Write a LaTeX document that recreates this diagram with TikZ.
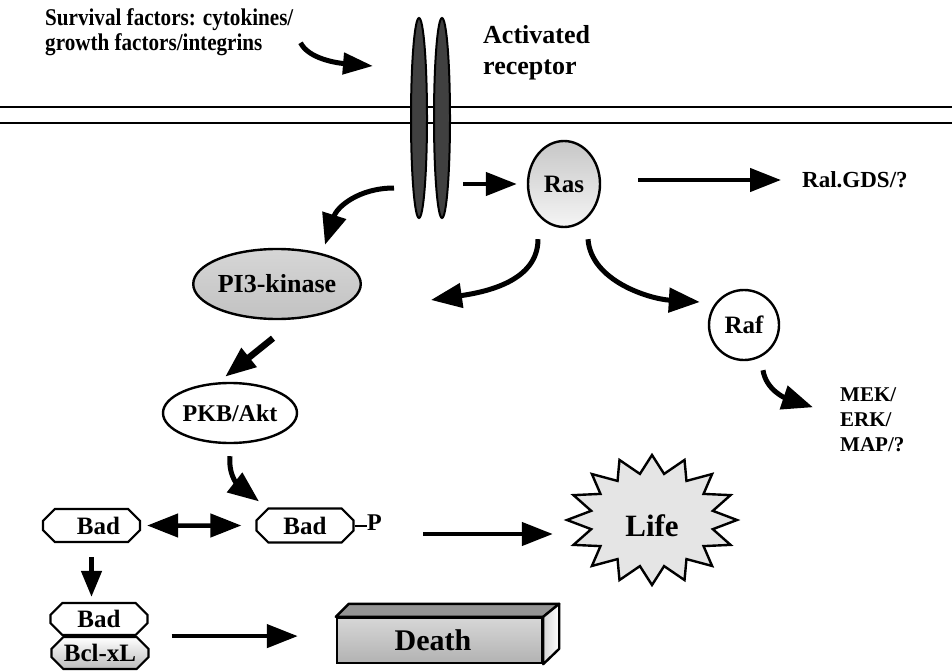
\documentclass[tikz,border=0pt]{standalone}
\usepackage{fontspec}
\setmainfont{Liberation Serif}
\newfontfamily\narrowserif{Liberation Serif}[FakeStretch=0.88]
\usetikzlibrary{arrows.meta,shapes.geometric,shapes.misc}
\newcommand\fsz[1]{\fontsize{#1}{#1}\selectfont\bfseries}

\tikzset{
  lbl/.style={inner sep=0pt, align=left, anchor=north west},
  arr/.style={line width=4.5pt, -{Triangle[length=31pt,width=23pt]}},
  darr/.style={line width=4.5pt, {Triangle[length=31pt,width=23pt]}-{Triangle[length=31pt,width=23pt]}},
  carr/.style={line width=5pt, -{Triangle[length=31pt,width=24pt]}},
  mol/.style={draw, line width=2.4pt, ellipse, inner sep=0pt},
  receptorchain/.style={draw, line width=2pt, ellipse, fill=black!75, minimum width=16pt, minimum height=200pt, inner sep=0pt},
  badbox/.style={draw, line width=2.2pt, chamfered rectangle, chamfered rectangle xsep=9pt,
    minimum width=97pt, minimum height=33pt, inner sep=0pt, fill=white, font={\fsz{25}}},
  membrane/.style={line width=2.5pt},
  outline/.style={line width=2.4pt, line join=miter},
}

\begin{document}
\begin{tikzpicture}[x=1pt,y=-1pt]
\useasboundingbox (0,0) rectangle (952,671);

% cell membrane
\draw[membrane] (0,107) -- (952,107);
\draw[membrane] (0,123) -- (952,123);

% receptor chains crossing the membrane
\node[receptorchain] (rec1) at (419,118) {};
\node[receptorchain] (rec2) at (442,118) {};

% labels at the top
\node[lbl, font={\fontsize{26}{31}\selectfont\bfseries}] (actlbl) at (483,25) {Activated\\receptor};
\node[lbl, font={\narrowserif\fontsize{24}{25}\selectfont\bfseries}] (surv) at (45,8)
  {Survival factors: cytokines/\\growth factors/integrins};

% signalling molecules
\node[mol, minimum width=72pt, minimum height=86pt, top color=black!22, bottom color=black!4, font={\fsz{25}}] (ras) at (564,184) {Ras};
\node[anchor=west, inner sep=0pt, font={\fsz{23}}] (ral) at (802,180) {Ral.GDS/?};
\node[draw, circle, line width=2.4pt, minimum size=70pt, inner sep=0pt, fill=white, font={\fsz{25}}] (raf) at (744,325) {Raf};
\node[lbl, font={\fontsize{21}{25}\selectfont\bfseries}] (mek) at (840,387) {MEK/\\ERK/\\MAP/?};
\node[mol, minimum width=151pt, minimum height=70pt, top color=black!16, middle color=black!4, bottom color=black!24, font={\fsz{26}}] (pi3) at (277,284) {PI3-kinase};
\node[mol, fill=white, minimum width=134pt, minimum height=60pt, font={\fsz{24}}] (pkb) at (230,413) {PKB/Akt};

% Bad and its complexes
\node[badbox] (bad1) at (91.5,525.5) {\hspace*{14pt}Bad};
\node[badbox, minimum height=34pt] (bad2) at (305,525.5) {Bad};
\node[anchor=west, inner sep=0pt, font={\fsz{24}}] (phos) at (367,523) {P};
\draw[line width=2pt] (bad2.east) -- (bad2.east -| phos.west);
\node[badbox, minimum height=32pt] (badlow) at (99,619) {Bad};
\node[badbox, minimum height=32pt, top color=white, bottom color=black!26] (bcl) at (100,653) {Bcl-xL};

% Life burst
\draw[outline, fill=black!10] plot[samples at={0,...,31}, variable=\k]
  ({652+(85-23*mod(\k,2))*cos(90+11.25*\k)}, {520-(65-18*mod(\k,2))*sin(90+11.25*\k)}) -- cycle;
\node[inner sep=0pt, minimum width=170pt, minimum height=100pt, font={\fsz{31}}] (life) at (652,526) {Life};

% Death block
\node[draw, line width=2.4pt, minimum width=205pt, minimum height=45pt, inner sep=0pt,
  top color=black!16, middle color=black!2, bottom color=black!30, font={\fsz{30}}] (death) at (439.5,640.5) {Death\hspace*{13pt}};
\draw[outline, fill=black!42, line join=round] (death.north west) -- ++(13,-13) -- ([shift={(16,-13)}]death.north east) -- (death.north east) -- cycle;
\draw[outline, left color=black!16, right color=white, line join=round] (death.north east) -- ++(16,-13) -- ++(0,45) -- (death.south east) -- cycle;

% connectors
\draw[carr, -{Triangle[length=30pt,width=21pt]}] ([shift={(7,11)}]surv.east) .. controls +(8,16) and +(-36,-3) .. ([shift={(-37,-52)}]rec1.west);
\draw[arr, shorten <=12pt, shorten >=10pt] (rec2.east |- ras.west) -- (ras.west);
\draw[arr, shorten <=37pt, shorten >=21pt] (ras.east |- ral.west) -- (ral.west);
\draw[carr] ([shift={(-16,70)}]rec1.west) .. controls +(-35,0) and +(12,-38) .. ([shift={(48,-3)}]pi3.north);
\draw[carr] ([shift={(-26,11)}]ras.south) .. controls +(0,42) and +(55,-8) .. ([shift={(69,16)}]pi3.east);
\draw[carr] ([shift={(24,11)}]ras.south) .. controls +(3,42) and +(-50,-3) .. ([shift={(-8,-23)}]raf.west);
\draw[carr] ([shift={(19,9)}]raf.south) .. controls +(3,20) and +(-27,-9) .. ([shift={(-27,-12)}]mek.west);
\draw[arr, line width=6.5pt] ([shift={(-4,18)}]pi3.south) -- ([shift={(-5,-5)}]pkb.north);
\draw[carr] ([shift={(0,12)}]pkb.south) .. controls +(-2,22) and +(-18,-14) .. ([shift={(-46,-6)}]bad2.north);
\draw[darr, shorten <=6pt, shorten >=14pt] (bad1) -- (bad2);
\draw[line width=4.5pt, -{Triangle[length=26pt,width=20pt]}, shorten <=14pt, shorten >=5pt] (bad1.south) -- (bad1.south |- badlow.north);
\draw[arr, shorten <=22pt, shorten >=38pt] (bcl.east |- badlow.south) -- (death.west |- badlow.south);
\draw[arr] ([shift={(41,11)}]phos.east) -- ([shift={(-14,8)}]life.west);
\end{tikzpicture}
\end{document}
